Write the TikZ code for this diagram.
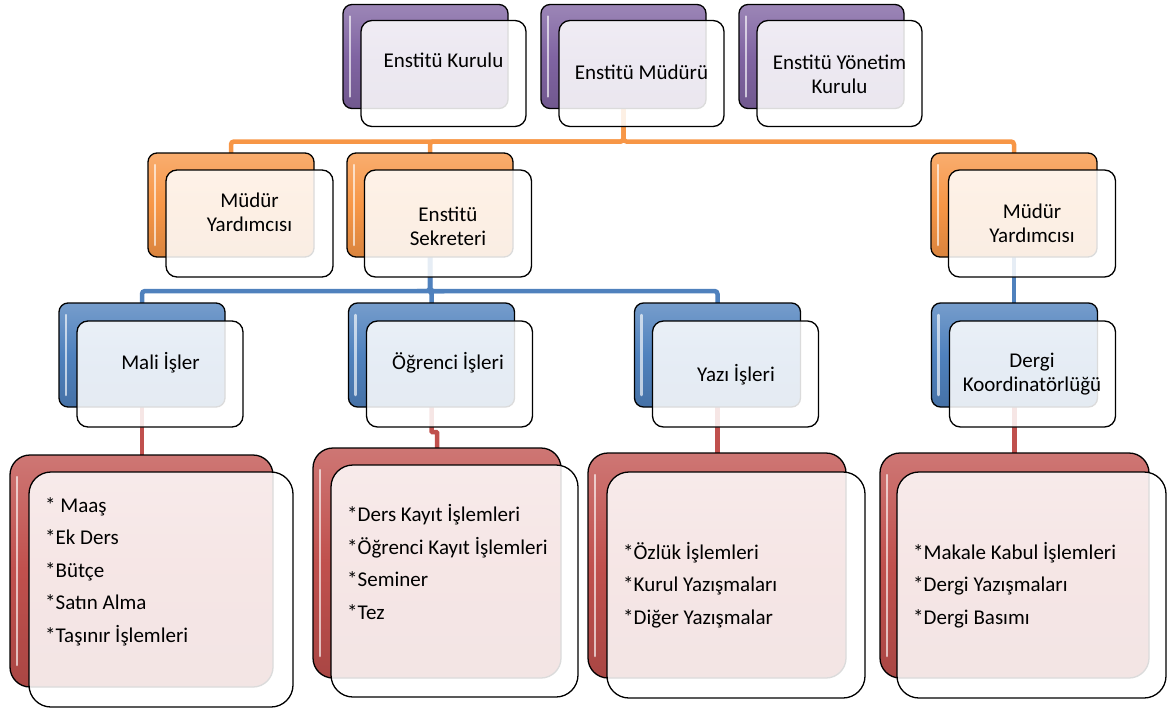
\documentclass[tikz,border=0pt]{standalone}
\usepackage{fontspec}
\setmainfont{Carlito}
\usetikzlibrary{calc}
\pgfdeclarelayer{bg}
\pgfsetlayers{bg,main}
\definecolor{cpur}{HTML}{8064A2}
\definecolor{cora}{HTML}{F79646}
\definecolor{cblu}{HTML}{4F81BD}
\definecolor{cred}{HTML}{C0504D}
\tikzset{
  backbox/.style={rectangle, rounded corners=9pt, draw=black, line width=1.3pt,
    top color=#1!78!white, bottom color=#1!88!black, middle color=#1,
    inner sep=0pt, outer sep=0pt},
  frontbox/.style={rectangle, rounded corners=11pt, draw=black, line width=1.3pt,
    fill=white, fill opacity=0.86, inner sep=0pt, outer sep=0pt},
  bigback/.style={backbox=#1, rounded corners=20pt},
  bigfront/.style={frontbox, rounded corners=22pt},
  lab/.style={font=\fontsize{21}{23.5}\selectfont, align=center, anchor=base, inner sep=0pt},
  lst/.style={font=\fontsize{21}{32.4}\selectfont, align=left, anchor=base west, inner sep=0pt},
  conn/.style={line width=4.5pt, rounded corners=3pt},
  glintline/.style={white, opacity=0.65, line width=2.5pt, line cap=round}
}
\newcommand\myglint[2]{\draw[glintline] ($(#1.north west)+(7,#2)$) -- ($(#1.south west)+(7,-#2)$);}
\begin{document}
\begin{tikzpicture}[x=1pt,y=-1pt]
\useasboundingbox (0,0) rectangle (1167,709);
% ---- purple row
\node[backbox=cpur, minimum width=165pt, minimum height=104pt] (k1b) at (425.5,56.5) {};
\myglint{k1b}{12}
\node[frontbox, minimum width=165pt, minimum height=106pt] (k1f) at (443.5,73.5) {};
\node[lab] (k1t) at (443.5,67) {Enstitü Kurulu};
\node[backbox=cpur, minimum width=165pt, minimum height=104pt] (k2b) at (623.5,56.5) {};
\myglint{k2b}{12}
\node[frontbox, minimum width=165pt, minimum height=106pt] (k2f) at (641.5,73.5) {};
\node[lab] (k2t) at (641.5,80) {Enstitü Müdürü};
\node[backbox=cpur, minimum width=165pt, minimum height=104pt] (k3b) at (821.5,56.5) {};
\myglint{k3b}{12}
\node[frontbox, minimum width=165pt, minimum height=106pt] (k3f) at (839.5,73.5) {};
\node[lab] (k3t) at (839.5,93) {Enstitü Yönetim\\Kurulu};
% ---- orange row
\node[backbox=cora, minimum width=166pt, minimum height=104pt] (o1b) at (231,205) {};
\myglint{o1b}{12}
\node[frontbox, minimum width=167pt, minimum height=107pt] (o1f) at (249.5,223.5) {};
\node[lab] (o1t) at (249.5,231) {Müdür\\Yardımcısı};
\node[backbox=cora, minimum width=166pt, minimum height=104pt] (o2b) at (430,205) {};
\myglint{o2b}{12}
\node[frontbox, minimum width=167pt, minimum height=107pt] (o2f) at (448,223.5) {};
\node[lab] (o2t) at (448,245) {Enstitü\\Sekreteri};
\node[backbox=cora, minimum width=166pt, minimum height=104pt] (o3b) at (1014,205) {};
\myglint{o3b}{12}
\node[frontbox, minimum width=167pt, minimum height=107pt] (o3f) at (1032,223.5) {};
\node[lab] (o3t) at (1032,242) {Müdür\\Yardımcısı};
% ---- blue row
\node[backbox=cblu, minimum width=166pt, minimum height=104pt] (l1b) at (142,355) {};
\myglint{l1b}{12}
\node[frontbox, minimum width=166pt, minimum height=106pt] (l1f) at (160,374) {};
\node[lab] (l1t) at (160.5,369) {Mali İşler};
\node[backbox=cblu, minimum width=166pt, minimum height=104pt] (l2b) at (431.5,355) {};
\myglint{l2b}{12}
\node[frontbox, minimum width=166pt, minimum height=106pt] (l2f) at (449.5,374) {};
\node[lab] (l2t) at (448,369) {Öğrenci İşleri};
\node[backbox=cblu, minimum width=166pt, minimum height=104pt] (l3b) at (717.5,355) {};
\myglint{l3b}{12}
\node[frontbox, minimum width=166pt, minimum height=106pt] (l3f) at (735.5,374) {};
\node[lab] (l3t) at (736,381) {Yazı İşleri};
\node[backbox=cblu, minimum width=166pt, minimum height=104pt] (l4b) at (1014.5,355) {};
\myglint{l4b}{12}
\node[frontbox, minimum width=166pt, minimum height=106pt] (l4f) at (1032.5,374) {};
\node[lab] (l4t) at (1032,391) {Dergi\\Koordinatörlüğü};
% ---- red row
\node[bigback=cred, minimum width=263pt, minimum height=232pt] (r1b) at (141.5,571) {};
\myglint{r1b}{22}
\node[bigfront, minimum width=264pt, minimum height=235pt] (r1f) at (161,589.5) {};
\node[lst] (r1t) at (45,642) {* Maaş\\*Ek Ders\\*Bütçe\\*Satın Alma\\*Taşınır İşlemleri};
\node[bigback=cred, minimum width=248pt, minimum height=230pt] (r2b) at (437,563) {};
\myglint{r2b}{22}
\node[bigfront, minimum width=247pt, minimum height=232pt] (r2f) at (454.5,581) {};
\node[lst] (r2t) at (347,619) {*Ders Kayıt İşlemleri\\*Öğrenci Kayıt İşlemleri\\*Seminer\\*Tez};
\node[bigback=cred, minimum width=258pt, minimum height=225pt] (r3b) at (717,565.5) {};
\myglint{r3b}{22}
\node[bigfront, minimum width=258pt, minimum height=226pt] (r3f) at (736,585) {};
\node[lst] (r3t) at (623,624) {*Özlük İşlemleri\\*Kurul Yazışmaları\\*Diğer Yazışmalar};
\node[bigback=cred, minimum width=269pt, minimum height=225pt] (r4b) at (1014.5,565.5) {};
\myglint{r4b}{22}
\node[bigfront, minimum width=269pt, minimum height=226pt] (r4f) at (1031.5,585) {};
\node[lst] (r4t) at (913,624) {*Makale Kabul İşlemleri\\*Dergi Yazışmaları\\*Dergi Basımı};
% ---- connectors
\begin{pgfonlayer}{bg}
\draw[conn, cora] (k2b.south) -- ++(0,33) -| (o1b.north);
\draw[conn, cora] (k2b.south) -- ++(0,33) -| (o2b.north);
\draw[conn, cora] (k2b.south) -- ++(0,33) -| (o3b.north);
\draw[conn, cblu] (o2b.south) -- ++(0,34) -| (l1b.north);
\draw[conn, cblu] (o2b.south) -- ++(0,34) -| (l2b.north);
\draw[conn, cblu] (o2b.south) -- ++(0,34) -| (l3b.north);
\draw[conn, cblu] (o3b.south) -- (o3b.south |- l4b.north);
\draw[conn, cred] (l1b.south) -- (l1b.south |- r1b.north);
\draw[conn, cred, rounded corners=0.8pt] (l2b.south) -- ++(0,25) -| (r2b.north);
\draw[conn, cred] (l3b.south) -- (l3b.south |- r3b.north);
\draw[conn, cred] (l4b.south) -- (l4b.south |- r4b.north);
\end{pgfonlayer}
\end{tikzpicture}
\end{document}
